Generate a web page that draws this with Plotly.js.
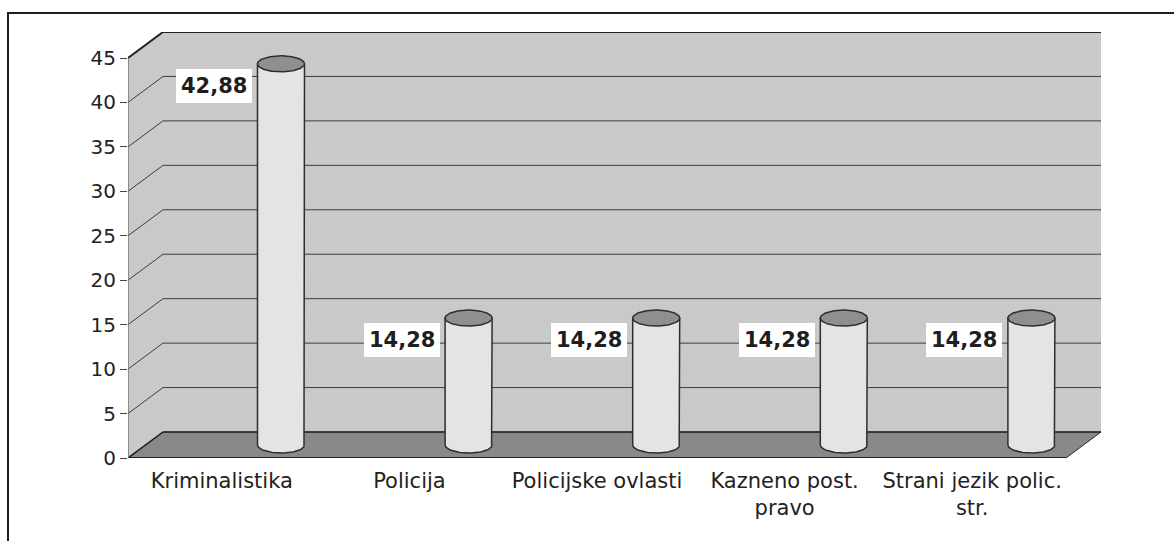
<!DOCTYPE html>
<html><head><meta charset="utf-8">
<script src="https://cdn.plot.ly/plotly-3.0.1.min.js"></script>
<style>html,body{margin:0;padding:0;background:#fff;} #chart{width:1174px;height:541px;}</style>
</head><body><div id="chart"></div>
<script>
// ---- data ----
const categories = ['Kriminalistika', 'Policija', 'Policijske ovlasti', 'Kazneno post.<br>pravo', 'Strani jezik polic.<br>str.'];
const values = [42.88, 14.28, 14.28, 14.28, 14.28];
const valueLabels = ['42,88', '14,28', '14,28', '14,28', '14,28'];
const yTicks = [0, 5, 10, 15, 20, 25, 30, 35, 40, 45];

// ---- geometry (pixels -> axis units) ----
const W = 1174, H = 541;
const M = {l: 128, r: 73, t: 32, b: 83};
const pw = W - M.l - M.r, ph = H - M.t - M.b;
const depth = {x: 35, y: 26};
const yMax = 45;
const n = categories.length;
const pxX = (pw - depth.x) / n;
const pxY = (ph - depth.y) / yMax;
const DX = depth.x / pxX, DY = depth.y / pxY;
const X0 = -0.5, X1 = n - 0.5;

const FONT = 'DejaVu Sans, Verdana, sans-serif';
const shapes = [];
function poly(pts, fill, lineColor, lineWidth) {
  shapes.push({type: 'path', xref: 'x', yref: 'y', layer: 'below',
    path: 'M' + pts.map(p => p[0] + ',' + p[1]).join(' L') + ' Z',
    fillcolor: fill, line: {color: lineColor || 'rgba(0,0,0,0)', width: lineWidth || 0}});
}
function seg(a, b, color, width) {
  shapes.push({type: 'line', xref: 'x', yref: 'y', layer: 'below',
    x0: a[0], y0: a[1], x1: b[0], y1: b[1], line: {color: color, width: width}});
}
const wallCol = '#c9c9c9', floorCol = '#88898b';
// side wall
poly([[X0, 0], [X0, yMax], [X0 + DX, yMax + DY], [X0 + DX, DY]], wallCol);
// back wall
poly([[X0 + DX, DY], [X1 + DX, DY], [X1 + DX, yMax + DY], [X0 + DX, yMax + DY]], wallCol);
// floor
poly([[X0, 0], [X1, 0], [X1 + DX, DY], [X0 + DX, DY]], floorCol, '#2a2a2a', 1);
// grid lines
yTicks.forEach(v => {
  if (v === 0) return;
  const top = v === yMax;
  const c = top ? '#222' : '#3c3c3c', w = top ? 2 : 1;
  seg([X0, v], [X0 + DX, v + DY], c, w);
  seg([X0 + DX, v + DY], [X1 + DX, v + DY], c, w);
});
// floor edges
seg([X0, 0], [X0 + DX, DY], '#222', 1.5);
seg([X0 + DX, DY], [X1 + DX, DY], '#2a2a2a', 1.5);
seg([X0, 0], [X1, 0], '#222', 2);
// front-left wall edge (value axis line)
seg([X0, 0], [X0, yMax], '#777', 1.5);
// x tick marks at category boundaries
for (let i = 0; i < n; i++) {
  shapes.push({type: 'line', xref: 'x', yref: 'y', ysizemode: 'pixel', yanchor: 0, layer: 'above',
    x0: X0 + i, x1: X0 + i, y0: 0, y1: -6, line: {color: '#333', width: 1}});
}
// outer border
const px2paperX = px => (px - M.l) / pw;
const px2paperY = py => (H - M.b - py) / ph;
shapes.push({type: 'rect', xref: 'paper', yref: 'paper', layer: 'above',
  x0: px2paperX(8), x1: px2paperX(1190), y0: px2paperY(13), y1: px2paperY(570),
  line: {color: '#1e1e1e', width: 2}, fillcolor: 'rgba(0,0,0,0)'});

// ---- cylinders ----
const cylOffset = 41.7 / pxX + DX / 2; // from category centre to cylinder axis
const rx = 23.5 / pxX, ry = 8 / pxY;
const yb = DY / 2;
const traces = [];
const N = 60;
values.forEach((v, i) => {
  const cx = i + cylOffset, yt = v + DY / 2;
  // body
  const bx = [cx - rx, cx - rx, cx + rx, cx + rx], by = [yb, yt, yt, yb];
  for (let k = 0; k <= N; k++) {
    const a = k / N * Math.PI; // right -> left along front (lower) arc
    bx.push(cx + rx * Math.cos(a)); by.push(yb - ry * Math.sin(a));
  }
  traces.push({type: 'scatter', mode: 'lines', x: bx, y: by, fill: 'toself',
    fillcolor: '#e3e4e6', line: {color: '#2e2e2e', width: 1.5}, hoverinfo: 'skip', showlegend: false});
  // top ellipse
  const tx = [], ty = [];
  for (let k = 0; k <= 2 * N; k++) {
    const a = k / (2 * N) * 2 * Math.PI;
    tx.push(cx + rx * Math.cos(a)); ty.push(yt + ry * Math.sin(a));
  }
  traces.push({type: 'scatter', mode: 'lines', x: tx, y: ty, fill: 'toself',
    fillcolor: '#8f8f8f', line: {color: '#2e2e2e', width: 1.5}, hoverinfo: 'skip', showlegend: false});
});

const annotations = values.map((v, i) => ({
  x: i + cylOffset, y: v, xref: 'x', yref: 'y', xshift: -67, yshift: -9,
  text: '<b>' + valueLabels[i] + '</b>', showarrow: false,
  font: {family: FONT, size: 21, color: '#1e1e1e'},
  bgcolor: '#ffffff', borderpad: 5, borderwidth: 0
}));

const layout = {
  width: W, height: H, margin: M,
  paper_bgcolor: '#ffffff', plot_bgcolor: 'rgba(0,0,0,0)',
  showlegend: false,
  font: {family: FONT, size: 20, color: '#222'},
  xaxis: {range: [X0, X1 + DX], showgrid: false, zeroline: false, showline: false,
    tickmode: 'array', tickvals: categories.map((c, i) => i), ticktext: categories,
    ticks: '', ticklabelstandoff: 8, tickfont: {family: FONT, size: 21, color: '#222'}, fixedrange: true},
  yaxis: {range: [0, yMax + DY], showgrid: false, zeroline: false, showline: false,
    tickmode: 'array', tickvals: yTicks, ticktext: yTicks.map(String),
    ticks: 'outside', ticklen: 7, tickcolor: '#444', tickwidth: 1,
    tickfont: {family: FONT, size: 20, color: '#222'}, fixedrange: true},
  shapes: shapes,
  annotations: annotations
};
Plotly.newPlot('chart', traces, layout, {displayModeBar: false, staticPlot: true});
</script>
</body></html>
